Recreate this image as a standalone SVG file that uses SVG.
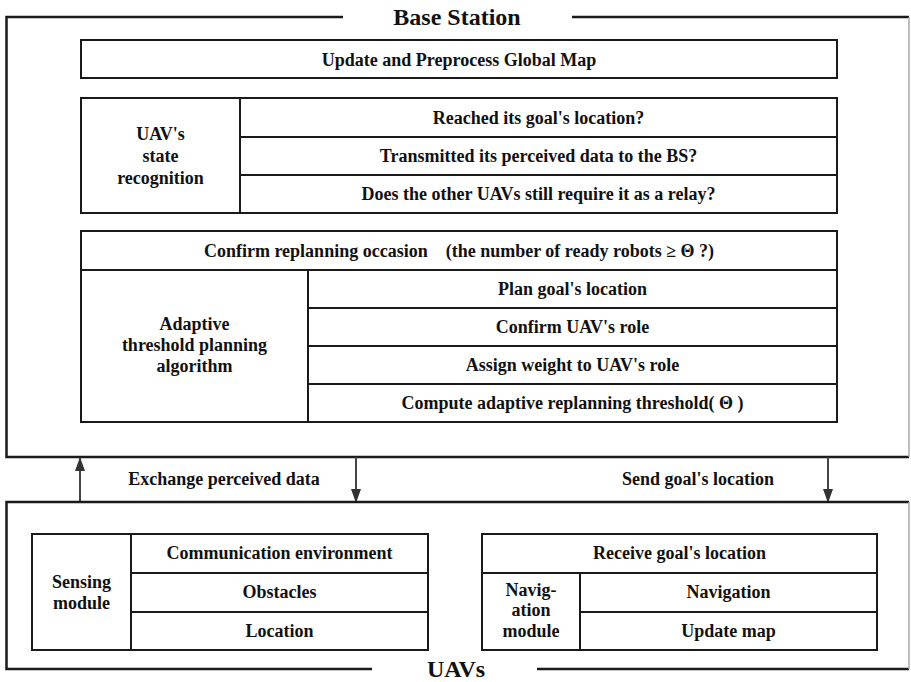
<svg xmlns="http://www.w3.org/2000/svg" width="911" height="682" viewBox="0 0 911 682">
<style>
text{font-family:"Liberation Serif","Times New Roman",serif;font-weight:bold;font-size:18px;fill:#111;text-anchor:middle}
.big{font-size:24px}
.box{fill:none;stroke:#1a1a1a;stroke-width:2}
.ln{stroke:#1a1a1a;stroke-width:2;fill:none}
.outer{stroke:#1a1a1a;stroke-width:2.5;fill:none}
.gray{stroke:#aaa;stroke-width:1.5;fill:none}
.arr{stroke:#444;stroke-width:2;fill:none;marker-end:url(#ah)}
</style>
<defs>
<marker id="ah" markerWidth="14" markerHeight="10" refX="13" refY="5" orient="auto" markerUnits="userSpaceOnUse" viewBox="0 0 14 10">
<path d="M0,0 L14,5 L0,10 z" fill="#333"/>
</marker>
</defs>
<rect width="911" height="682" fill="#fff"/>

<g id="base-station">
<polyline class="outer" points="343,17 6.5,17 6.5,457 909,457"/>
<line class="outer" x1="572" y1="17" x2="909" y2="17"/>
<line class="gray" x1="909" y1="17" x2="909" y2="457"/>
<text class="big" x="457" y="25">Base Station</text>
</g>

<g id="global-map">
<rect class="box" x="81" y="40" width="756" height="38"/>
<text x="459" y="66">Update and Preprocess Global Map</text>
</g>

<g id="state-recognition">
<rect class="box" x="81" y="98" width="756" height="115"/>
<line class="ln" x1="240" y1="98" x2="240" y2="213"/>
<line class="ln" x1="240" y1="137" x2="837" y2="137"/>
<line class="ln" x1="240" y1="175" x2="837" y2="175"/>
<text x="160.5" y="140">UAV's</text>
<text x="160.5" y="162">state</text>
<text x="160.5" y="184">recognition</text>
<text x="538.5" y="124">Reached its goal's location?</text>
<text x="538.5" y="162">Transmitted its perceived data to the BS?</text>
<text x="538.5" y="200">Does the other UAVs still require it as a relay?</text>
</g>

<g id="planning">
<rect class="box" x="81" y="231" width="756" height="191"/>
<line class="ln" x1="81" y1="270" x2="837" y2="270"/>
<line class="ln" x1="308" y1="270" x2="308" y2="422"/>
<line class="ln" x1="308" y1="308" x2="837" y2="308"/>
<line class="ln" x1="308" y1="346" x2="837" y2="346"/>
<line class="ln" x1="308" y1="384" x2="837" y2="384"/>
<text x="459" y="257" xml:space="preserve">Confirm replanning occasion    (the number of ready robots ≥ Θ ?)</text>
<text x="194.5" y="330">Adaptive</text>
<text x="194.5" y="351">threshold planning</text>
<text x="194.5" y="372">algorithm</text>
<text x="572.5" y="295">Plan goal's location</text>
<text x="572.5" y="333">Confirm UAV's role</text>
<text x="572.5" y="371">Assign weight to UAV's role</text>
<text x="572.5" y="409">Compute adaptive replanning threshold( Θ )</text>
</g>

<g id="connectors">
<line class="arr" x1="80" y1="502" x2="80" y2="458"/>
<line class="arr" x1="356" y1="457" x2="356" y2="502"/>
<line class="arr" x1="828" y1="457" x2="828" y2="502"/>
<text x="224" y="485">Exchange perceived data</text>
<text x="698" y="485">Send goal's location</text>
</g>

<g id="uavs">
<polyline class="outer" points="909,502 6.5,502 6.5,669 372,669"/>
<line class="outer" x1="537" y1="669" x2="909" y2="669"/>
<line class="gray" x1="909" y1="502" x2="909" y2="669"/>
<text class="big" x="456" y="677">UAVs</text>
</g>

<g id="sensing-module">
<rect class="box" x="32" y="534" width="396" height="116"/>
<line class="ln" x1="131" y1="534" x2="131" y2="650"/>
<line class="ln" x1="131" y1="573" x2="428" y2="573"/>
<line class="ln" x1="131" y1="612" x2="428" y2="612"/>
<text x="81.5" y="588">Sensing</text>
<text x="81.5" y="609">module</text>
<text x="279.5" y="559">Communication environment</text>
<text x="279.5" y="598">Obstacles</text>
<text x="279.5" y="637">Location</text>
</g>

<g id="navigation-module">
<rect class="box" x="482" y="534" width="395" height="116"/>
<line class="ln" x1="482" y1="573" x2="877" y2="573"/>
<line class="ln" x1="580" y1="573" x2="580" y2="650"/>
<line class="ln" x1="580" y1="612" x2="877" y2="612"/>
<text x="679.5" y="559">Receive goal's location</text>
<text x="531" y="596">Navig-</text>
<text x="531" y="616">ation</text>
<text x="531" y="637">module</text>
<text x="728.5" y="598">Navigation</text>
<text x="728.5" y="637">Update map</text>
</g>
</svg>
